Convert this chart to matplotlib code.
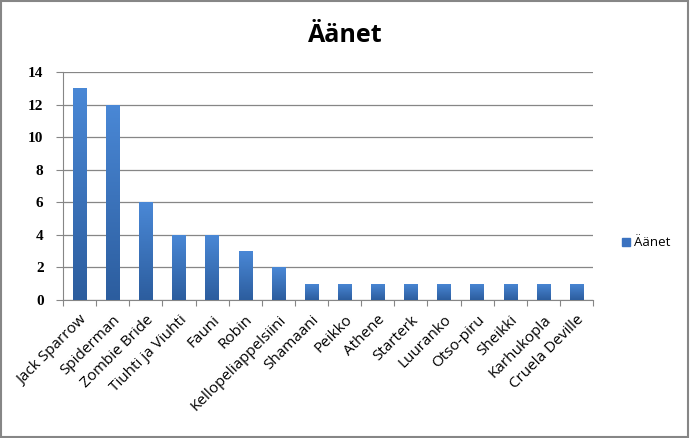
import matplotlib
matplotlib.use("Agg")
import matplotlib.pyplot as plt
import numpy as np
from matplotlib.patches import Rectangle
from matplotlib.colors import LinearSegmentedColormap

categories = ["Jack Sparrow", "Spiderman", "Zombie Bride", "Tiuhti ja Viuhti", "Fauni",
              "Robin", "Kellopeliappelsiini", "Shamaani", "Peikko", "Athene", "Starterk",
              "Luuranko", "Otso-piru", "Sheikki", "Karhukopla", "Cruela Deville"]
values = [13, 12, 6, 4, 4, 3, 2, 1, 1, 1, 1, 1, 1, 1, 1, 1]
yticks = [0, 2, 4, 6, 8, 10, 12, 14]
series_name = "Äänet"
title = "Äänet"

fig = plt.figure(figsize=(6.9, 4.38), dpi=100)
ax = fig.add_axes([63/690, 1-300/438, (593-63)/690, (300-72)/438])

x = np.arange(len(categories))
bars = ax.bar(x, values, width=0.4, color="#3a72c0", label=series_name, zorder=3)

# gradient fill inside bars
grad = np.linspace(0, 1, 256).reshape(-1, 1)
cmap = LinearSegmentedColormap.from_list("g", ["#2c5d9e", "#4a88d6"])
for b in bars:
    bx, by = b.get_x(), b.get_y()
    w, h = b.get_width(), b.get_height()
    im = ax.imshow(grad, extent=[bx, bx + w, by, by + h], origin="lower",
                   cmap=cmap, aspect="auto", zorder=4)
    im.set_clip_path(b)

ax.set_xlim(-0.5, len(categories) - 0.5)
ax.set_ylim(0, 14)
ax.set_yticks(yticks)
ax.set_yticklabels([str(v) for v in yticks], fontfamily="Liberation Serif", fontsize=11,
                   fontweight="bold")
ax.set_xticks(np.arange(len(categories) + 1) - 0.5, minor=False)
ax.set_xticklabels([])
ax.set_xticks(x, minor=True)
ax.set_xticklabels(categories, minor=True, rotation=45, ha="right", rotation_mode="anchor",
                   fontfamily="Open Sans", fontsize=11)
ax.tick_params(axis="x", which="minor", length=0, pad=9)
ax.tick_params(axis="x", which="major", length=4, color="#868686", direction="out")
ax.tick_params(axis="y", length=5, color="#868686", direction="out", pad=9)
ax.grid(axis="y", color="#868686", linewidth=0.9, zorder=0)
for s in ["top", "right"]:
    ax.spines[s].set_visible(False)
for s in ["left", "bottom"]:
    ax.spines[s].set_color("#868686")
ax.set_axisbelow(True)

fig.text(0.5, 1-35/438, title, ha="center", va="center", fontsize=18, fontweight="bold",
         fontfamily="Open Sans")

leg = fig.legend(handles=[Rectangle((0, 0), 1, 1, color="#3a72c0")], labels=[series_name],
                 loc="center left", bbox_to_anchor=(610/690, 1-243/438), frameon=False,
                 handlelength=0.6, handleheight=0.6, handletextpad=0.3,
                 prop={"family": "Open Sans", "size": 9.5})

fig.patches.append(Rectangle((0.002, 0.003), 0.995, 0.994, transform=fig.transFigure,
                             fill=False, edgecolor="#868686", linewidth=1.5))

fig.savefig("out.png", dpi=100)
